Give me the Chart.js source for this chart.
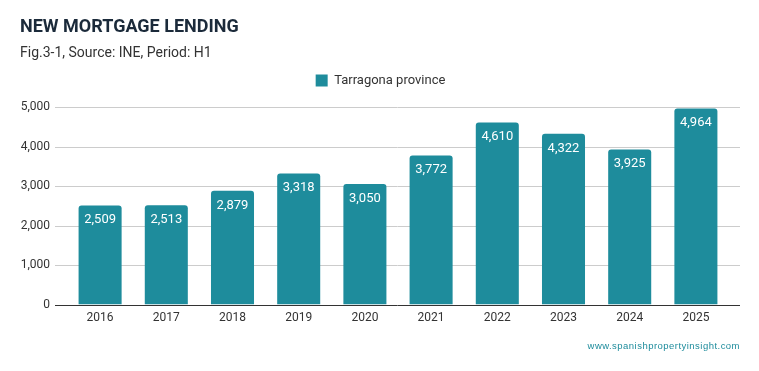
<!DOCTYPE html>
<html><head><meta charset="utf-8">
<script src="https://cdn.jsdelivr.net/npm/chart.js@4"></script>
<style>
html,body{margin:0;padding:0;background:#fff;}
#wrap{position:relative;width:759px;height:371px;font-family:Roboto,sans-serif;}
#t{position:absolute;left:20px;top:15px;font-size:18px;font-weight:700;color:#1b2a3a;}
#s{position:absolute;left:20px;top:44px;font-size:14px;color:#333;}
#w{position:absolute;right:19px;top:340px;font-size:9.5px;color:#1e8c9c;letter-spacing:0.47px;font-family:Arial,"Liberation Sans",sans-serif;}
canvas{position:absolute;left:0;top:0;}
</style></head>
<body><div id="wrap">
<canvas id="c" width="759" height="371"></canvas>
<div id="t">NEW MORTGAGE LENDING</div>
<div id="s">Fig.3-1, Source: INE, Period: H1</div>
<div id="w">www.spanishpropertyinsight.com</div>
</div>
<script>
const categories = ["2016","2017","2018","2019","2020","2021","2022","2023","2024","2025"];
const seriesName = "Tarragona province";
const values = [2509,2513,2879,3318,3050,3772,4610,4322,3925,4964];
const yTicks = [0,1000,2000,3000,4000,5000];

const GRID_LEFT = 12, GRID_RIGHT = 11;

function drawLine(chart, v, color){
  const ctx = chart.ctx, ys = chart.scales.y, a = chart.chartArea;
  const y = Math.round(ys.getPixelForValue(v)) + 0.5;
  ctx.save();
  ctx.strokeStyle = color;
  ctx.lineWidth = 1;
  ctx.beginPath();
  ctx.moveTo(a.left - GRID_LEFT, y);
  ctx.lineTo(a.right + GRID_RIGHT, y);
  ctx.stroke();
  ctx.restore();
}

const gridPlugin = {
  id:'grid',
  afterLayout(chart){
    chart.legend.left += 16; chart.legend.right += 16;
  },
  beforeDatasetsDraw(chart){
    yTicks.forEach(v=>{ if(v!==0) drawLine(chart, v, '#ccc'); });
  },
  afterDatasetsDraw(chart){
    drawLine(chart, 0, '#333');
  }
};

const legendPad = {
  id:'legendPad',
  beforeInit(chart){
    const orig = chart.legend.fit;
    chart.legend.fit = function(){ orig.call(this); this.height += 10; };
  }
};

const labelPlugin = {
  id:'vals',
  afterDatasetsDraw(chart){
    const ctx = chart.ctx;
    const meta = chart.getDatasetMeta(0);
    ctx.save();
    ctx.font = '13px Roboto, sans-serif';
    ctx.fillStyle = '#fff';
    ctx.textAlign = 'center';
    ctx.textBaseline = 'top';
    meta.data.forEach((bar,i)=>{
      ctx.fillText(values[i].toLocaleString('en-US'), bar.x, bar.y + 8);
    });
    ctx.restore();
  }
};

new Chart(document.getElementById('c'), {
  type:'bar',
  data:{labels:categories, datasets:[{label:seriesName,data:values,backgroundColor:'#1e8c9c',borderRadius:{topLeft:3,topRight:3,bottomLeft:0,bottomRight:0},borderSkipped:'bottom',barPercentage:0.65,categoryPercentage:1}]},
  options:{
    responsive:false, animation:false,
    layout:{padding:{top:64,right:30,bottom:40,left:0}},
    plugins:{
      legend:{labels:{boxWidth:12,boxHeight:12,font:{family:'Roboto',size:13},color:'#333',padding:10}},
      tooltip:{enabled:false}
    },
    scales:{
      x:{grid:{display:false,drawTicks:false,tickLength:0},border:{display:false},ticks:{font:{family:'Roboto',size:12},color:'#333',padding:6}},
      y:{min:0,max:5000,afterBuildTicks:s=>{s.ticks=yTicks.map(v=>({value:v}));},afterFit:s=>{s.width=67;},
         grid:{display:false,drawTicks:false,tickLength:0},border:{display:false},
         ticks:{font:{family:'Roboto',size:12},color:'#333',padding:17,callback:v=>v.toLocaleString('en-US')}}
    }
  },
  plugins:[legendPad,gridPlugin,labelPlugin]
});
</script>
</body></html>
